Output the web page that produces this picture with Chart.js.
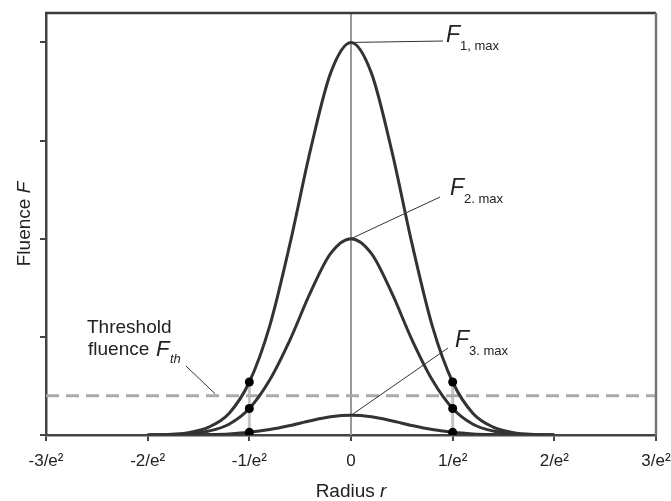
<!DOCTYPE html>
<html>
<head>
<meta charset="utf-8">
<script src="https://cdn.jsdelivr.net/npm/chart.js@4/dist/chart.umd.min.js"></script>
<style>
  body { margin: 0; background: #fff; }
  canvas { display: block; }
</style>
</head>
<body>
<canvas id="fluenceChart" width="671" height="501"></canvas>
<script>
// radius positions (units of 1/e²) and fluence
const radius = [-2, -1.8, -1.6, -1.4, -1.2, -1, -0.8, -0.6, -0.4, -0.2, 0, 0.2, 0.4, 0.6, 0.8, 1, 1.2, 1.4, 1.6, 1.8, 2];
const fluence1 = [0, 0.006, 0.024, 0.08, 0.22, 0.54, 1.11, 1.95, 2.9, 3.69, 4, 3.69, 2.9, 1.95, 1.11, 0.54, 0.22, 0.08, 0.024, 0.006, 0];
const fluence2 = [0, 0.003, 0.012, 0.04, 0.11, 0.27, 0.56, 0.97, 1.45, 1.85, 2, 1.85, 1.45, 0.97, 0.56, 0.27, 0.11, 0.04, 0.012, 0.003, 0];
const fluence3 = [0, 0, 0.001, 0.004, 0.011, 0.027, 0.056, 0.097, 0.145, 0.185, 0.2, 0.185, 0.145, 0.097, 0.056, 0.027, 0.011, 0.004, 0.001, 0, 0];
const threshold = 0.4;
const xTicks = [-3, -2, -1, 0, 1, 2, 3];
const yTicks = [0, 1, 2, 3, 4];
const peakNames = ['1, max', '2. max', '3. max'];

const FONT = '"Liberation Sans", Arial, sans-serif';
const INK = '#222';

function toPoints(ys) {
    return radius.map((r, i) => ({ x: r, y: ys[i] }));
}
function valueAt(ys, r) {
    return ys[radius.indexOf(r)];
}

// dots where each curve crosses r = ±1/e²
const dots = [];
[-1, 1].forEach(r => {
    [fluence1, fluence2, fluence3].forEach(ys => dots.push({ x: r, y: valueAt(ys, r) }));
});

const curveStyle = {
    borderColor: '#333',
    borderWidth: 3,
    pointRadius: 0,
    cubicInterpolationMode: 'monotone',
    fill: false
};

// text with a normal part and an italic symbol, centred on 0
function mixedText(ctx, plain, sym, size, cx, y) {
    ctx.font = size + 'px ' + FONT;
    const w1 = ctx.measureText(plain).width;
    ctx.font = 'italic ' + size + 'px ' + FONT;
    const w2 = ctx.measureText(sym).width;
    const tx = cx - (w1 + w2) / 2;
    ctx.font = size + 'px ' + FONT;
    ctx.fillText(plain, tx, y);
    ctx.font = 'italic ' + size + 'px ' + FONT;
    ctx.fillText(sym, tx + w1, y);
}

// draws the frame, labels and axis titles
const decorations = {
    id: 'decorations',
    afterDraw(chart) {
        const ctx = chart.ctx;
        const a = chart.chartArea;
        const xs = chart.scales.x, ys = chart.scales.y;

        ctx.save();
        // top and right frame
        ctx.lineWidth = 2.5;
        ctx.strokeStyle = '#3a3a3a';
        ctx.beginPath();
        ctx.moveTo(a.left - 1, a.top);
        ctx.lineTo(a.right, a.top);
        ctx.stroke();
        ctx.strokeStyle = '#777';
        ctx.beginPath();
        ctx.moveTo(a.right, a.top);
        ctx.lineTo(a.right, a.bottom);
        ctx.stroke();

        // leader lines
        ctx.lineWidth = 1;
        ctx.strokeStyle = '#333';
        const x0 = xs.getPixelForValue(0);
        const leaders = [
            [x0, ys.getPixelForValue(4), 443, 41],
            [x0, ys.getPixelForValue(2), 440, 197],
            [x0, ys.getPixelForValue(0.2), 448, 348],
            [186, 366, 215, ys.getPixelForValue(threshold) - 2]
        ];
        leaders.forEach(l => {
            ctx.beginPath();
            ctx.moveTo(l[0], l[1]);
            ctx.lineTo(l[2], l[3]);
            ctx.stroke();
        });

        // peak labels
        ctx.fillStyle = INK;
        ctx.textBaseline = 'alphabetic';
        ctx.textAlign = 'left';
        const labelPos = [[446, 42], [450, 195], [455, 347]];
        labelPos.forEach((p, i) => {
            ctx.font = 'italic 23px ' + FONT;
            ctx.fillText('F', p[0], p[1]);
            ctx.font = '13px ' + FONT;
            ctx.fillText(peakNames[i], p[0] + 14, p[1] + 8);
        });

        // threshold label
        ctx.font = '19px ' + FONT;
        ctx.fillText('Threshold', 87, 333);
        ctx.fillText('fluence', 88, 355);
        ctx.font = 'italic 22px ' + FONT;
        ctx.fillText('F', 156, 356);
        ctx.font = 'italic 13px ' + FONT;
        ctx.fillText('th', 170, 363);

        // axis titles
        mixedText(ctx, 'Radius ', 'r', 19, (a.left + a.right) / 2, 497);
        ctx.translate(30, (a.top + a.bottom) / 2);
        ctx.rotate(-Math.PI / 2);
        mixedText(ctx, 'Fluence ', 'F', 19, 0, 0);
        ctx.restore();
    }
};

new Chart(document.getElementById('fluenceChart'), {
    type: 'line',
    data: {
        datasets: [
            {
                type: 'scatter',
                data: dots,
                pointRadius: 4.5,
                pointBackgroundColor: '#000',
                pointBorderWidth: 0,
                showLine: false
            },
            Object.assign({ data: toPoints(fluence1) }, curveStyle),
            Object.assign({ data: toPoints(fluence2) }, curveStyle),
            Object.assign({ data: toPoints(fluence3) }, curveStyle),
            {
                data: [{ x: -3, y: threshold }, { x: 3, y: threshold }],
                borderColor: '#aaa',
                borderWidth: 3,
                borderDash: [13, 7],
                pointRadius: 0
            },
            {
                data: [{ x: 0, y: 0 }, { x: 0, y: 4.3 }],
                borderColor: '#999',
                borderWidth: 2,
                pointRadius: 0
            },
            {
                data: [{ x: -1, y: 0 }, { x: -1, y: valueAt(fluence1, -1) }],
                borderColor: '#c4c4c4',
                borderWidth: 3,
                pointRadius: 0
            },
            {
                data: [{ x: 1, y: 0 }, { x: 1, y: valueAt(fluence1, 1) }],
                borderColor: '#c4c4c4',
                borderWidth: 3,
                pointRadius: 0
            }
        ]
    },
    options: {
        responsive: false,
        devicePixelRatio: 1,
        animation: false,
        layout: { padding: { left: 0, top: 13, right: 15, bottom: 0 } },
        plugins: {
            legend: { display: false },
            tooltip: { enabled: false }
        },
        scales: {
            x: {
                type: 'linear',
                min: -3,
                max: 3,
                afterBuildTicks: s => { s.ticks = xTicks.map(v => ({ value: v })); },
                afterFit: s => { s.height = 66; s.paddingLeft = 0; s.paddingRight = 0; },
                ticks: {
                    color: INK,
                    font: { family: FONT, size: 17 },
                    padding: 10,
                    maxRotation: 0,
                    callback: v => v === 0 ? '0' : v + '/e²'
                },
                grid: { drawOnChartArea: false, tickLength: 6, color: '#444', lineWidth: 2 },
                border: { color: '#444', width: 2.5 }
            },
            y: {
                type: 'linear',
                min: 0,
                max: 4.3,
                afterBuildTicks: s => { s.ticks = yTicks.map(v => ({ value: v })); },
                afterFit: s => { s.width = 46; s.paddingTop = 0; s.paddingBottom = 0; },
                ticks: { callback: () => '' },
                grid: { drawOnChartArea: false, tickLength: 6, color: '#444', lineWidth: 2 },
                border: { color: '#444', width: 2.5 }
            }
        }
    },
    plugins: [decorations]
});
</script>
</body>
</html>
